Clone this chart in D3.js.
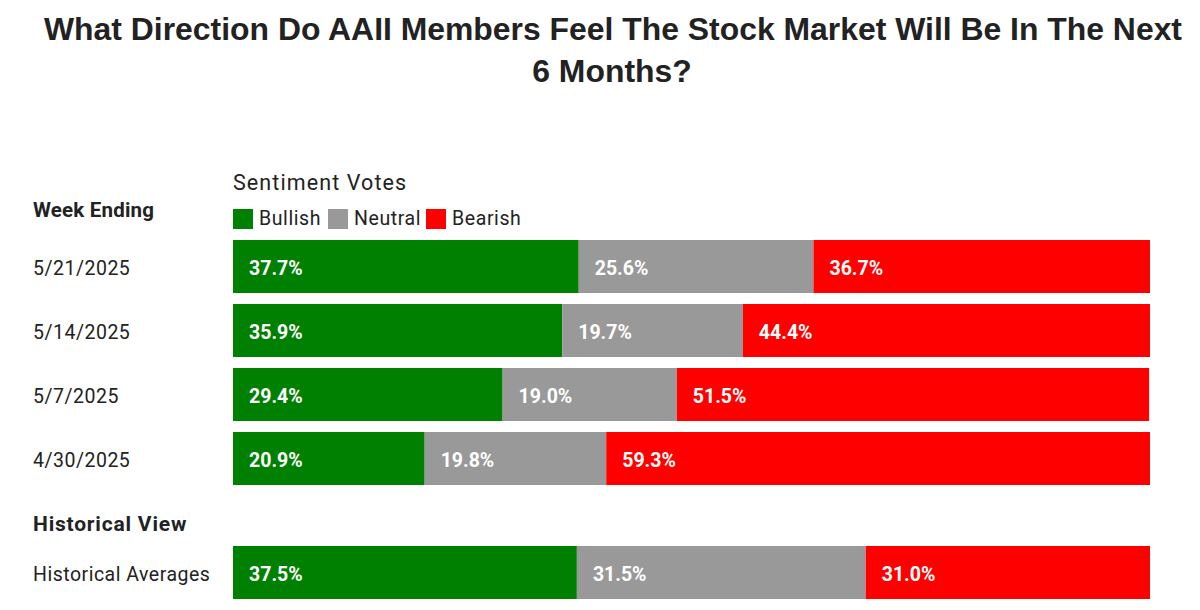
<!DOCTYPE html>
<html><head><meta charset="utf-8">
<script src="https://cdn.jsdelivr.net/npm/d3@7"></script>
<style>body{margin:0;background:#fff;}</style>
</head><body>
<svg id="c" width="1200" height="610"></svg>
<script>
const weeks = ["5/21/2025","5/14/2025","5/7/2025","4/30/2025"];
const bullish = [37.7,35.9,29.4,20.9];
const neutral = [25.6,19.7,19.0,19.8];
const bearish = [36.7,44.4,51.5,59.3];
const histLabel = "Historical Averages";
const histValues = [37.5,31.5,31.0];
const seriesNames = ["Bullish","Neutral","Bearish"];
const colors = ["#008000","#999999","#ff0000"];

const svg = d3.select("#c");
const font = "Roboto, 'Noto Sans', sans-serif";
const tfont = "'Liberation Sans', Arial, sans-serif";

// title
const t1 = svg.append("text").attr("x",613).attr("y",40).attr("text-anchor","middle")
  .attr("font-family",tfont).attr("font-weight","bold")
  .attr("font-size",31).attr("fill","#222")
  .text("What Direction Do AAII Members Feel The Stock Market Will Be In The Next");
const nat1 = t1.node().getComputedTextLength();
const target1 = 1138;
t1.attr("textLength",target1).attr("lengthAdjust","spacingAndGlyphs");
const t2 = svg.append("text").attr("x",612).attr("y",82).attr("text-anchor","middle")
  .attr("font-family",tfont).attr("font-weight","bold")
  .attr("font-size",31).attr("fill","#222").text("6 Months?");
const nat2 = t2.node().getComputedTextLength();
t2.attr("textLength",nat2*target1/nat1).attr("lengthAdjust","spacingAndGlyphs");

const x = d3.scaleLinear().domain([0,100]).range([233,1150]);

const rows = weeks.map((w,i)=>({label:w, vals:[bullish[i],neutral[i],bearish[i]]}));
const yWeeks = d3.scaleBand().domain(weeks).range([240,240+64*4-11]).paddingInner(11/64).paddingOuter(0);

svg.append("text").attr("x",33).attr("y",217).attr("font-family",font).attr("font-weight","bold")
  .attr("font-size",20.5).attr("fill","#222").attr("letter-spacing",0.2).text("Week Ending");
svg.append("text").attr("x",233).attr("y",190).attr("font-family",font)
  .attr("font-size",21.5).attr("fill","#222").attr("letter-spacing",1.1).text("Sentiment Votes");

// legend
const legX = [233,328,426];
seriesNames.forEach((n,i)=>{
  svg.append("rect").attr("x",legX[i]).attr("y",209).attr("width",20).attr("height",20).attr("fill",colors[i]);
  svg.append("text").attr("x",legX[i]+26).attr("y",225).attr("font-family",font)
    .attr("font-size",19.5).attr("letter-spacing",0.6).attr("fill","#222").text(n);
});

function drawRow(label, vals, y, h){
  svg.append("text").attr("x",33).attr("y",y+h/2+8.5).attr("font-family",font)
    .attr("font-size",19.5).attr("letter-spacing",0.5).attr("fill","#222").text(label);
  let cum = 0;
  vals.forEach((v,i)=>{
    const x0 = x(cum), x1 = x(cum+v);
    svg.append("rect").attr("x",x0).attr("y",y).attr("width",x1-x0).attr("height",h).attr("fill",colors[i]);
    svg.append("text").attr("x",x0+16).attr("y",y+h/2+8.5).attr("font-family",font).attr("font-weight","bold")
      .attr("font-size",19.5).attr("fill","#fff").text(v.toFixed(1)+"%");
    cum += v;
  });
}
rows.forEach(r=>drawRow(r.label, r.vals, yWeeks(r.label), yWeeks.bandwidth()));

svg.append("text").attr("x",33).attr("y",531).attr("font-family",font).attr("font-weight","bold")
  .attr("font-size",21).attr("fill","#222").attr("letter-spacing",0.8).text("Historical View");
drawRow(histLabel, histValues, 546, yWeeks.bandwidth());
</script>
</body></html>
